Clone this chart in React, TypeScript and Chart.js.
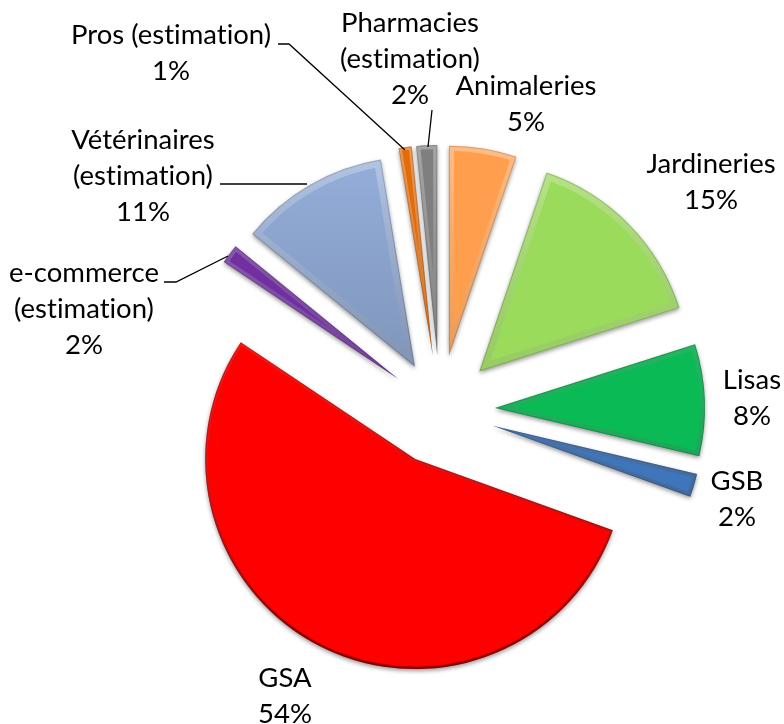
import React, { useEffect, useRef } from "react";
import { Chart, ArcElement, registerables } from "chart.js";

Chart.register(...registerables);

const categories = ["Animaleries", "Jardineries", "Lisas", "GSB", "GSA", "e-commerce (estimation)", "Vétérinaires (estimation)", "Pros (estimation)", "Pharmacies (estimation)"];
const shares = [5.2, 14.9, 8.6, 1.8, 53.9, 1.5, 11.5, 1.0, 1.6];
const sliceColors = ["#FF9F4D", "#9BDB5B", "#0ABB55", "#3F75BA", "#FF0000", "#7030A0", "#94AEDA", "#E36C0A", "#7F7F7F"];
const explode = [55, 55, 55, 55, 55, 52, 50, 55, 55];
const bevelWidths = [10, 14, 10, 8, 5, 8, 14, 6, 8];

const labelLines: string[][] = [
  ["Animaleries", "5%"],
  ["Jardineries", "15%"],
  ["Lisas", "8%"],
  ["GSB", "2%"],
  ["GSA", "54%"],
  ["e-commerce", "(estimation)", "2%"],
  ["Vétérinaires", "(estimation)", "11%"],
  ["Pros (estimation)", "1%"],
  ["Pharmacies", "(estimation)", "2%"],
];
const labelAnchors = [[526, 86], [711, 164], [752, 380], [737, 481], [285, 678], [84, 273], [143, 140], [171, 35], [410, 23]];
const leaders = [
  [[278, 44], [289, 44], [405, 150]],
  [[432, 110], [428, 147]],
  [[220, 184], [307, 184]],
  [[164, 282], [176, 282], [228, 256]],
];

const slicePath = (ctx: CanvasRenderingContext2D, arc: any, off: number) => {
  const p = arc.getProps(["x", "y", "startAngle", "endAngle", "outerRadius"], true);
  const mid = (p.startAngle + p.endAngle) / 2;
  const cx = p.x + Math.cos(mid) * off;
  const cy = p.y + Math.sin(mid) * off;
  ctx.beginPath();
  ctx.moveTo(cx, cy);
  ctx.arc(cx, cy, p.outerRadius, p.startAngle, p.endAngle);
  ctx.closePath();
  return { cy, r: p.outerRadius };
};

const piePlugin = {
  id: "pieDecor",
  beforeDatasetsDraw(chart: any) {
    const c = chart.ctx;
    chart.getDatasetMeta(0).data.forEach((arc: any, i: number) => {
      arc.draw = function (ctx: CanvasRenderingContext2D, area: any) {
        const mid = (this.startAngle + this.endAngle) / 2;
        ctx.save();
        ctx.translate(Math.cos(mid) * explode[i], Math.sin(mid) * explode[i]);
        ArcElement.prototype.draw.call(this, ctx, area);
        ctx.restore();
      };
    });
    c.save();
    c.shadowColor = "rgba(0,0,0,0.4)";
    c.shadowBlur = 4;
    c.shadowOffsetY = 2;
  },
  afterDatasetsDraw(chart: any) {
    const c: CanvasRenderingContext2D = chart.ctx;
    c.restore();
    const arcs = chart.getDatasetMeta(0).data;
    arcs.forEach((arc: any, i: number) => {
      c.save();
      const { cy, r } = slicePath(c, arc, explode[i]);
      c.clip();
      if (i === 6) {
        const shade = c.createLinearGradient(0, cy - r, 0, cy);
        shade.addColorStop(0, "rgba(0,0,0,0.0)");
        shade.addColorStop(1, "rgba(0,0,0,0.14)");
        c.fillStyle = shade;
        c.fill();
      }
      const top = arc.getProps(["y"], true).y;
      const edge = c.createLinearGradient(0, top - 260, 0, top + 220);
      edge.addColorStop(0, "rgba(255,255,255,0.3)");
      edge.addColorStop(0.5, "rgba(128,128,128,0.18)");
      edge.addColorStop(1, "rgba(0,0,0,0.4)");
      c.strokeStyle = edge;
      c.lineJoin = "miter";
      c.lineWidth = bevelWidths[i];
      c.stroke();
      c.strokeStyle = "rgba(0,0,0,0.16)";
      c.lineWidth = 2;
      c.stroke();
      c.restore();
    });
  },
  afterDraw(chart: any) {
    const c: any = chart.ctx;
    c.save();
    c.strokeStyle = "#000";
    c.lineWidth = 1.3;
    leaders.forEach((pts) => {
      c.beginPath();
      pts.forEach(([x, y], k) => (k ? c.lineTo(x, y) : c.moveTo(x, y)));
      c.stroke();
    });
    c.fillStyle = "#000";
    c.font = '27.5px Lato, "Open Sans", sans-serif';
    c.letterSpacing = "0.01px";
    c.textAlign = "center";
    c.textBaseline = "middle";
    labelLines.forEach((lines, i) => {
      lines.forEach((t, k) => c.fillText(t, labelAnchors[i][0], labelAnchors[i][1] + k * 36));
    });
    c.restore();
  },
};

export default function App() {
  const ref = useRef<HTMLCanvasElement>(null);
  useEffect(() => {
    const chart = new Chart(ref.current!, {
      type: "pie",
      data: {
        labels: categories,
        datasets: [{ data: shares, backgroundColor: sliceColors, borderWidth: 0 } as any],
      },
      options: {
        responsive: false,
        animation: false,
        radius: 210,
        rotation: 0,
        layout: { padding: { left: 96, top: 96, right: 0, bottom: 0 } },
        plugins: { legend: { display: false }, tooltip: { enabled: false } },
      } as any,
      plugins: [piePlugin],
    });
    return () => chart.destroy();
  }, []);
  return <canvas ref={ref} width={784} height={724} style={{ position: "absolute", left: 0, top: 0, display: "block" }} />;
}
